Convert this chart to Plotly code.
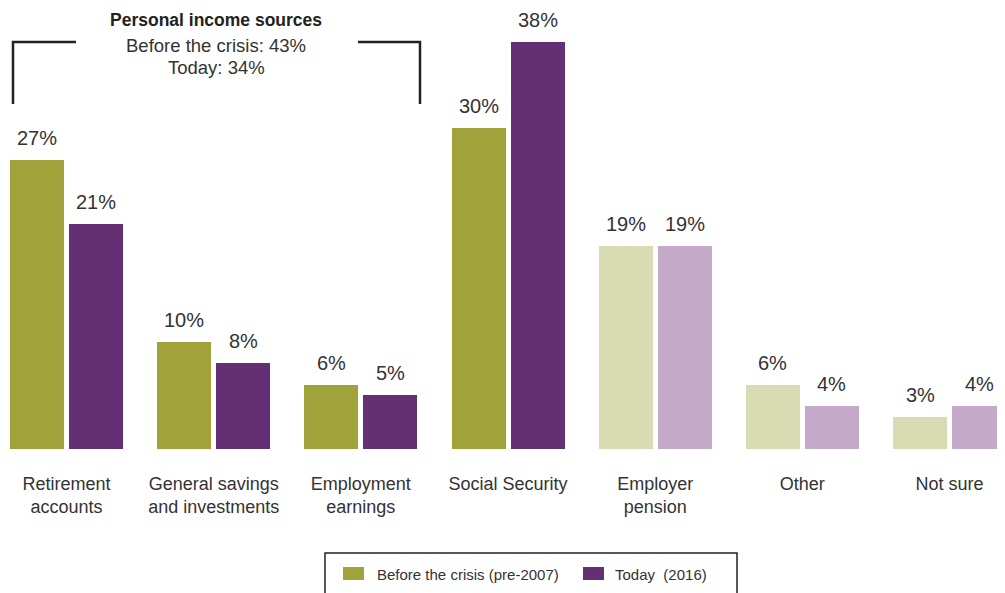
import plotly.graph_objects as go

categories = ["Retirement<br>accounts", "General savings<br>and investments", "Employment<br>earnings",
              "Social Security", "Employer<br>pension", "Other", "Not sure"]
before = [27, 10, 6, 30, 19, 6, 3]
today = [21, 8, 5, 38, 19, 4, 4]
personal = [True, True, True, True, False, False, False]  # dark vs light shade
series_names = ["Before the crisis (pre-2007)", "Today\u00a0\u00a0(2016)"]

C_BEFORE, C_BEFORE_L = "#A0A33A", "#D9DBB2"
C_TODAY, C_TODAY_L = "#652F73", "#C4AAC8"
FONT = "Liberation Sans, Arial, sans-serif"
TXT = "#333333"

S = 8                       # page body margin offset
W, H = 1005 - S, 593 - S
BASE = 449                  # screen y of bar baseline
PLOT_H = BASE - S
PX_PER_PCT = 10.71
px_per_cat = 147.17
cat0 = 66.5
x0 = (S - cat0) / px_per_cat
x1 = (1005 - cat0) / px_per_cat
off = 0.2004
bw = 0.367


def px_x(p):
    return (p - S) / W


def px_y(p):
    return (BASE - p) / PLOT_H


idx = list(range(len(categories)))
fig = go.Figure()
fig.add_trace(go.Bar(
    x=[i - off for i in idx], y=before, width=bw, name=series_names[0],
    marker=dict(color=[C_BEFORE if p else C_BEFORE_L for p in personal], line_width=0),
))
fig.add_trace(go.Bar(
    x=[i + off for i in idx], y=today, width=bw, name=series_names[1],
    marker=dict(color=[C_TODAY if p else C_TODAY_L for p in personal], line_width=0),
))

ann = []
for i in idx:
    for dx, v in ((-off, before[i]), (off, today[i])):
        ann.append(dict(x=i + dx, y=v, text=f"{v}%", showarrow=False, yanchor="bottom",
                        xanchor="center", yshift=9, font=dict(size=20, color=TXT, family=FONT)))

ann.append(dict(xref="paper", yref="paper", x=px_x(216), y=px_y(20), showarrow=False,
                xanchor="center", yanchor="middle",
                text="<b>Personal income sources</b>", font=dict(size=17.5, color="#222", family=FONT)))
ann.append(dict(xref="paper", yref="paper", x=px_x(216), y=px_y(45), showarrow=False,
                xanchor="center", yanchor="middle",
                text="Before the crisis: 43%", font=dict(size=18.5, color=TXT, family=FONT)))
ann.append(dict(xref="paper", yref="paper", x=px_x(216), y=px_y(67), showarrow=False,
                xanchor="center", yanchor="middle",
                text="Today: 34%", font=dict(size=18.5, color=TXT, family=FONT)))

# legend (drawn manually)
leg_items = [(series_names[0], C_BEFORE, 343, 364, 375), (series_names[1], C_TODAY, 583, 604, 613)]
line = dict(color="#222222", width=2.5)
shapes = [
    dict(type="path", xref="paper", yref="paper", line=line,
         path=f"M{px_x(13)},{px_y(104)} L{px_x(13)},{px_y(42)} L{px_x(76)},{px_y(42)}"),
    dict(type="path", xref="paper", yref="paper", line=line,
         path=f"M{px_x(358)},{px_y(42)} L{px_x(420)},{px_y(42)} L{px_x(420)},{px_y(104)}"),
    dict(type="rect", xref="paper", yref="paper", x0=px_x(325), x1=px_x(737),
         y0=px_y(610), y1=px_y(553), line=dict(color="#222222", width=1.5), fillcolor="rgba(0,0,0,0)"),
]
for name, col, sx0, sx1, tx in leg_items:
    shapes.append(dict(type="rect", xref="paper", yref="paper", x0=px_x(sx0), x1=px_x(sx1),
                       y0=px_y(580), y1=px_y(567), line_width=0, fillcolor=col))
    ann.append(dict(xref="paper", yref="paper", x=px_x(tx), y=px_y(574), showarrow=False,
                    xanchor="left", yanchor="middle", text=name,
                    font=dict(size=15, color=TXT, family=FONT)))

fig.update_layout(
    width=W, height=H,
    margin=dict(l=0, r=0, t=0, b=H - PLOT_H),
    paper_bgcolor="white", plot_bgcolor="white",
    bargap=0,
    showlegend=False,
    xaxis=dict(range=[x0, x1], tickvals=idx, ticktext=categories, showgrid=False, zeroline=False,
               showline=False, ticks="", ticklabelstandoff=22,
               tickfont=dict(size=18, color=TXT, family=FONT)),
    yaxis=dict(range=[0, PLOT_H / PX_PER_PCT], visible=False),
    annotations=ann,
    shapes=shapes,
)

fig.write_html("out.html")
